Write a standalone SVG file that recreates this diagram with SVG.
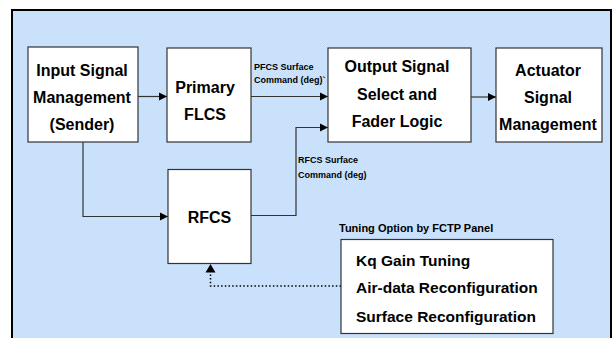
<svg xmlns="http://www.w3.org/2000/svg" width="613" height="338" viewBox="0 0 613 338">
<defs>
<marker id="arr" viewBox="0 0 10 10" refX="10" refY="5" markerWidth="8" markerHeight="9" markerUnits="userSpaceOnUse" orient="auto">
<path d="M0,0 L10,5 L0,10 Z" fill="#000"/>
</marker>
<marker id="arrBig" viewBox="0 0 10 10" refX="10" refY="5" markerWidth="9" markerHeight="10" markerUnits="userSpaceOnUse" orient="auto">
<path d="M0,0 L10,5 L0,10 Z" fill="#000"/>
</marker>
<pattern id="hatch" width="2" height="2" patternUnits="userSpaceOnUse">
<rect width="2" height="2" fill="#cfe5fe"/>
<rect width="1" height="1" fill="#c6ddf8"/>
<rect x="1" y="1" width="1" height="1" fill="#c6ddf8"/>
</pattern>
</defs>
<style>
.box{fill:#fff;stroke:#333;stroke-width:1.2}
.big{font-family:"Liberation Sans",Arial,sans-serif;font-weight:bold;font-size:16px;fill:#000;text-anchor:middle}
.small{font-family:"Liberation Sans",Arial,sans-serif;font-weight:bold;font-size:9px;fill:#000}
.mid{font-family:"Liberation Sans",Arial,sans-serif;font-weight:bold;font-size:11px;fill:#000}
.list{font-family:"Liberation Sans",Arial,sans-serif;font-weight:bold;font-size:15.5px;fill:#000}
.conn{fill:none;stroke:#333;stroke-width:1.2}
.dot{fill:none;stroke:#000;stroke-width:1.5;stroke-dasharray:1.5 2.2}
</style>
<rect x="0" y="0" width="613" height="338" fill="#fff"/>
<rect x="12" y="10" width="599" height="340" fill="url(#hatch)" stroke="#000" stroke-width="2"/>

<g id="connectors">
<line class="conn" x1="138" y1="96.5" x2="167" y2="96.5" marker-end="url(#arr)"/>
<line class="conn" x1="251" y1="96.5" x2="328" y2="96.5" marker-end="url(#arr)"/>
<line class="conn" x1="471" y1="97" x2="496" y2="97" marker-end="url(#arr)"/>
<polyline class="conn" points="83,142 83,216.5 168,216.5" marker-end="url(#arr)"/>
<polyline class="conn" points="251,215.5 296,215.5 296,127.5 328,127.5" marker-end="url(#arr)"/>
<polyline class="dot" points="341,286 210.5,286 210.5,273"/>
<path d="M205.5,272.5 L210.5,264 L215.5,272.5 Z" fill="#000"/>
<text class="small" x="254" y="70">PFCS Surface</text>
<text class="small" x="254" y="83">Command (deg)`</text>
<text class="small" x="298" y="163">RFCS Surface</text>
<text class="small" x="298" y="177.5">Command (deg)</text>
</g>

<g id="input-signal">
<rect class="box" x="28" y="47" width="110" height="95"/>
<text class="big" x="82" y="76">Input Signal</text>
<text class="big" x="82" y="103">Management</text>
<text class="big" x="82" y="130">(Sender)</text>
</g>

<g id="primary-flcs">
<rect class="box" x="167" y="48" width="84" height="94"/>
<text class="big" x="205" y="93">Primary</text>
<text class="big" x="205" y="119.5">FLCS</text>
</g>

<g id="output-signal">
<rect class="box" x="328" y="48" width="143" height="94"/>
<text class="big" x="397" y="72">Output Signal</text>
<text class="big" x="397" y="99.5">Select and</text>
<text class="big" x="397" y="127">Fader Logic</text>
</g>

<g id="actuator">
<rect class="box" x="496" y="48" width="106" height="94"/>
<text class="big" x="548" y="76">Actuator</text>
<text class="big" x="548" y="103">Signal</text>
<text class="big" x="548" y="129.5">Management</text>
</g>

<g id="rfcs">
<rect class="box" x="168" y="169.5" width="83" height="94"/>
<text class="big" x="209.5" y="223">RFCS</text>
</g>

<g id="tuning">
<text class="mid" x="339" y="231.5">Tuning Option by FCTP Panel</text>
<rect class="box" x="341" y="239.5" width="212" height="94"/>
<text class="list" x="356" y="266">Kq Gain Tuning</text>
<text class="list" x="356" y="293">Air-data Reconfiguration</text>
<text class="list" x="356" y="321.5">Surface Reconfiguration</text>
</g>
</svg>
